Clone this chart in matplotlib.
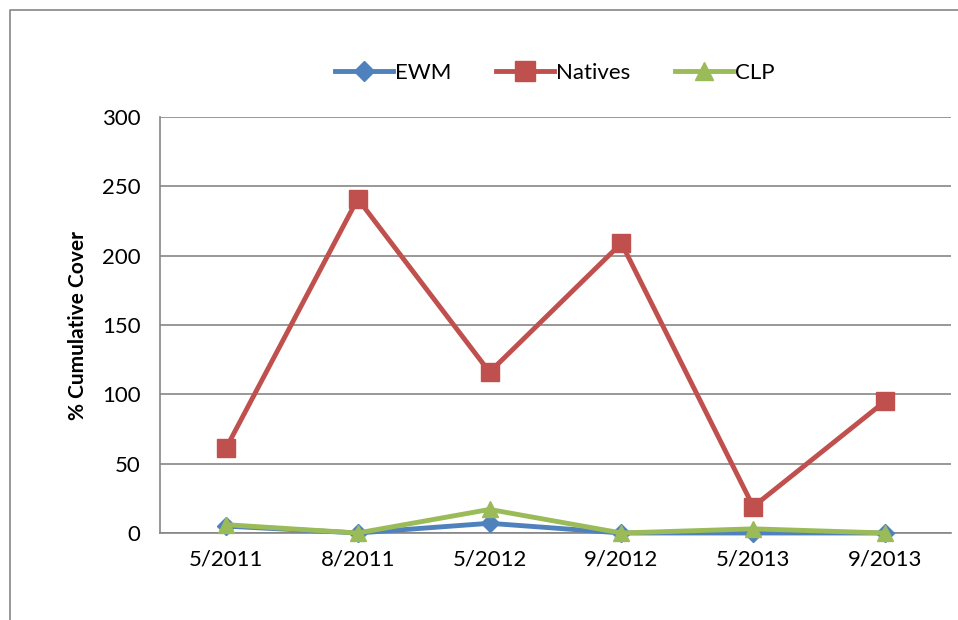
import numpy as np
import matplotlib.pyplot as plt
from matplotlib.lines import Line2D

plt.rcParams['font.family'] = ['Lato', 'DejaVu Sans']

# Survey dates and % cumulative cover per group
dates = ["5/2011", "8/2011", "5/2012", "9/2012", "5/2013", "9/2013"]
ewm = [5, 0, 7, 0, 0, 0]
natives = [61, 241, 116, 209, 19, 95]
clp = [6, 0, 17, 0, 3, 0]

fig = plt.figure(figsize=(9.58, 6.2), dpi=100)
ax = fig.add_axes([160 / 958, 1 - 533 / 620, 791 / 958, 416 / 620])

x = np.arange(len(dates))
ax.plot(x, ewm, color="#4F81BD", lw=3.5, marker="D", ms=9, label="EWM", clip_on=False, zorder=3)
ax.plot(x, natives, color="#C0504D", lw=3.5, marker="s", ms=13, label="Natives", clip_on=False, zorder=3)
ax.plot(x, clp, color="#9BBB59", lw=3.5, marker="^", ms=12, label="CLP", clip_on=False, zorder=4)

ax.set_xlim(-0.5, len(dates) - 0.5)
ax.set_ylim(0, 300)
ax.set_yticks(np.arange(0, 301, 50))
ax.set_xticks(x)
ax.set_xticklabels(dates)
ax.tick_params(axis="both", length=0, labelsize=16, pad=12)
ax.tick_params(axis="y", pad=14)
ax.grid(axis="y", color="#868686", lw=1.2)
ax.set_axisbelow(True)
for s in ["top", "right"]:
    ax.spines[s].set_visible(False)
for s in ["left", "bottom"]:
    ax.spines[s].set_color("#868686")
    ax.spines[s].set_linewidth(1.2)
ax.set_ylabel("% Cumulative Cover", fontsize=15, fontweight="bold", labelpad=10)

ax.legend(loc="center", bbox_to_anchor=(555 / 958, 1 - 73 / 620), bbox_transform=fig.transFigure,
          ncol=3, frameon=False, fontsize=16, handlelength=2.6, columnspacing=2.0, handletextpad=0.1,
          markerscale=1.1)

# chart border (top and left visible)
fig.add_artist(Line2D([10 / 958, 10 / 958, 1], [0, 1 - 10 / 620, 1 - 10 / 620],
                      transform=fig.transFigure, color="#868686", lw=1.2))

fig.savefig("out.png", dpi=100)
